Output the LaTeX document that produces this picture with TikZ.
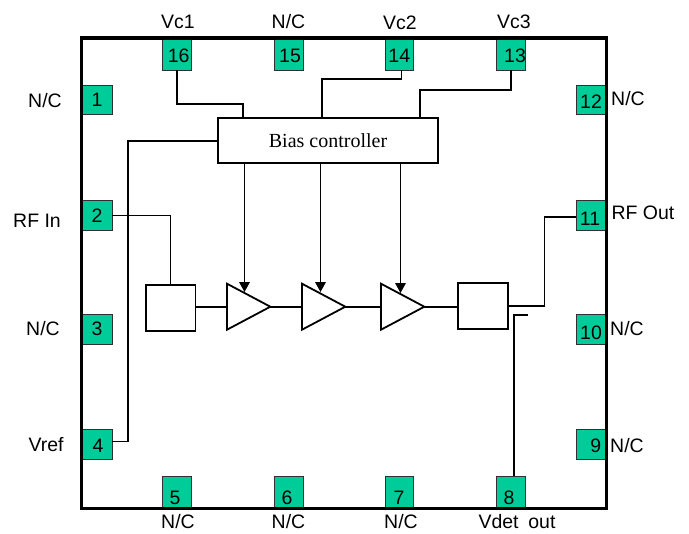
\documentclass[tikz,border=0pt]{standalone}
\usepackage{fontspec}
\setmainfont{Liberation Serif}
\setsansfont{Liberation Sans}
\usetikzlibrary{arrows.meta,shapes.geometric}
\definecolor{pingreen}{HTML}{00CC99}
\definecolor{pinedge}{HTML}{303030}
\newcommand{\PinNum}[3]{\node[pinnum] at (#1,#2) {#3};}
\begin{document}
\begin{tikzpicture}[x=0.75pt,y=-0.75pt,
  pinbox/.style={draw=pinedge,fill=pingreen,line width=0.75pt,inner sep=0,outer sep=0},
  vpin/.style={pinbox,minimum width=21.4pt,minimum height=24pt},
  hpin/.style={pinbox,minimum width=21.9pt,minimum height=22.1pt},
  pinnum/.style={inner sep=0,font=\sffamily\fontsize{14.6}{15}\selectfont,text height=10.4pt,text depth=0pt},
  lbl/.style={inner sep=0,font=\sffamily\fontsize{14.6}{15}\selectfont,text height=10.4pt,text depth=0pt},
  block/.style={draw,fill=white,line width=1.35pt,inner sep=0,outer sep=0},
  amp/.style={draw,fill=white,line width=1.35pt,inner sep=0,outer sep=0,isosceles triangle,isosceles triangle stretches,minimum width=34.5pt,minimum height=32.5pt,anchor=lower side},
  wire/.style={draw,line width=1pt},
  sigwire/.style={draw,line width=1.3pt},
  biasarrow/.style={draw,line width=1pt,-{Triangle[length=7.5pt,width=8pt]}},
  frame/.style={draw,line width=2.8pt,line cap=rect}]
\useasboundingbox (0,0) rectangle (689,533);
% pins
\node[vpin] (p16) at (177,54) {};
\node[vpin] (p15) at (289,54) {};
\node[vpin] (p14) at (399.3,54) {};
\node[vpin] (p13) at (510.8,54) {};
\node[vpin] (p5) at (177,492) {};
\node[vpin] (p6) at (289,492) {};
\node[vpin] (p7) at (399.3,492) {};
\node[vpin] (p8) at (510.8,492) {};
\node[hpin] (p1) at (97.5,99.8) {};
\node[hpin] (p2) at (97.5,215.5) {};
\node[hpin] (p3) at (97.5,329.5) {};
\node[hpin] (p4) at (97.5,444.6) {};
\node[hpin] (p12) at (590.8,99.8) {};
\node[hpin] (p11) at (590.8,215.5) {};
\node[hpin] (p10) at (590.8,329.7) {};
\node[hpin] (p9) at (590.8,444.6) {};
% package
\node[frame,minimum width=393.8pt,minimum height=353.2pt,inner sep=0,outer sep=0] (pkg) at (344,273.1) {};
% numbers
\PinNum{178.7}{56}{16}\PinNum{290}{56}{15}\PinNum{399.3}{56}{14}\PinNum{515}{56}{13}
\PinNum{97}{100}{1}\PinNum{97}{216}{2}\PinNum{97}{329}{3}\PinNum{98}{446}{4}
\PinNum{175}{498}{5}\PinNum{287}{498}{6}\PinNum{399}{498}{7}\PinNum{509}{498}{8}
\PinNum{591}{102}{12}\PinNum{590}{218.5}{11}\PinNum{591}{333}{10}\PinNum{595.7}{445.7}{9}
% blocks
\node[block,minimum width=164.5pt,minimum height=34pt,font=\fontsize{15}{16}\selectfont] (bias) at (328,140.3) {Bias controller};
\node[block,minimum width=37pt,minimum height=34.5pt] (bl) at (170.8,307.6) {};
\node[block,minimum width=37.5pt,minimum height=34.5pt] (br) at (483,306) {};
\node[amp] (a1) at (227,306.7) {};
\node[amp] (a2) at (302,306.7) {};
\node[amp] (a3) at (381,306.7) {};
\coordinate (t1) at (244.5,292);
\coordinate (t2) at (320.5,292);
\coordinate (t3) at (400.5,293);
% connectors
\draw[wire] (p16.south) -- (177,104) -- (243,104) -- (243,0 |- bias.north);
\draw[wire] (401.7,0 |- p14.south) -- (401.7,79) -- (322,79) -- (322,0 |- bias.north);
\draw[wire] (511,0 |- p13.south) -- (511,90) -- (420,90) -- (420,0 |- bias.north);
\draw[wire] (bias.west |- 0,141) -- (128,141) -- (128,441.3) -- (p4.east |- 0,441.3);
\draw[wire] (p2.east) -- (170.5,0 |- p2.east) -- (170.5,0 |- bl.north);
\draw[wire] (p8.north -| 514,0) -- (514,315) -- (528,315);
\draw[sigwire] (br.east) -- (544.5,0 |- br.east) -- (544.5,217) -- (p11.west |- 0,217);
\draw[sigwire] (bl.east |- a1.lower side) -- (a1.lower side);
\draw[sigwire] (a1.apex) -- (a2.lower side);
\draw[sigwire] (a2.apex) -- (a3.lower side);
\draw[sigwire] (a3.apex) -- (br.west |- a3.apex);
\draw[biasarrow] (bias.south -| t1) -- (t1);
\draw[biasarrow] (bias.south -| t2) -- (t2);
\draw[biasarrow] (bias.south -| t3) -- (t3);
% labels
\node[lbl] at (178,22) {Vc1};
\node[lbl] at (288.5,22) {N/C};
\node[lbl] at (400,23) {Vc2};
\node[lbl] at (514,22) {Vc3};
\node[lbl] at (45,101) {N/C};
\node[lbl] at (37,221) {RF In};
\node[lbl] at (43,329) {N/C};
\node[lbl] at (46,445) {Vref};
\node[lbl] at (628,99) {N/C};
\node[lbl] at (643,213) {RF Out};
\node[lbl] at (627,329) {N/C};
\node[lbl] at (627,446) {N/C};
\node[lbl] at (178,522) {N/C};
\node[lbl] at (288.5,522) {N/C};
\node[lbl] at (401,522) {N/C};
\node[lbl] at (517,522) {Vdet\hspace{0.5em}out};
\end{tikzpicture}
\end{document}
